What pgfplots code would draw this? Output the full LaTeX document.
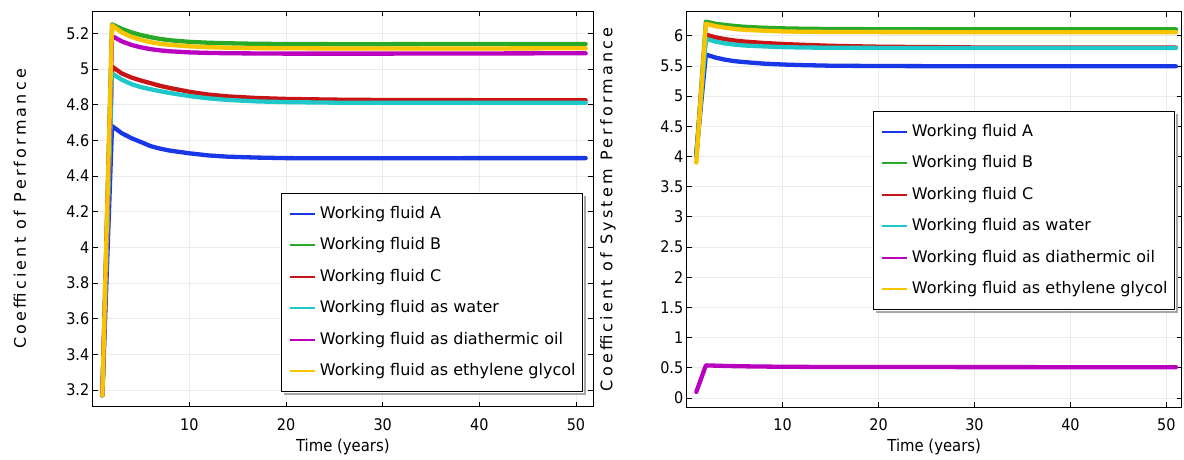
\documentclass[border=0pt]{standalone}
\usepackage{fontspec}
\setmainfont{DejaVu Sans Condensed}
\newfontfamily\legfont{DejaVu Sans}
\newfontfamily\labfont[LetterSpace=20]{DejaVu Sans}
\usepackage{pgfplots}
\pgfplotsset{compat=1.18}
\usetikzlibrary{calc}

\definecolor{cA}{RGB}{25,55,230}
\definecolor{cB}{RGB}{40,170,40}
\definecolor{cC}{RGB}{200,20,20}
\definecolor{cW}{RGB}{30,200,200}
\definecolor{cO}{RGB}{185,0,190}
\definecolor{cE}{RGB}{250,195,0}

\pgfplotsset{
  myax/.style={
    scale only axis,
    axis line style={black, line width=0.9pt},
    tick style={black, line width=0.8pt},
    major tick length=5pt,
    grid=major,
    major grid style={gray!16, line width=0.8pt},
    tick label style={font=\fontsize{16}{18}\selectfont},
    xticklabel style={yshift=-8pt},
    /pgf/number format/assume math mode=true,
    xtick={10,20,30,40,50},
    xlabel={Time (years)},
    xlabel style={font=\fontsize{16.5}{18}\selectfont, at={(axis description cs:0.5,0)}, anchor=center, yshift=-40pt},
    legend cell align=left,
    legend image code/.code={\draw[#1, line width=2pt, line cap=butt] (0pt,0pt) -- (25pt,0pt); \path (28pt,0pt);},
    every axis plot/.append style={line width=4.3pt, line join=round, line cap=round},
  },
  mylegend/.style={
    legend style={
      font=\legfont\fontsize{16}{19}\selectfont,
      draw=black, line width=0.9pt, fill=white,
      inner xsep=7pt, inner ysep=11pt,
      row sep=13pt,
      nodes={inner xsep=0pt, inner ysep=1.5pt, text height=12pt, text depth=3.5pt},
    },
  },
}

\begin{document}
\begin{tikzpicture}
\path[use as bounding box] (0,0) rectangle (1184pt,459pt);

% ---------------- Left: COP ----------------
\begin{axis}[myax, mylegend,
  at={(92.7pt,52.3pt)}, anchor=south west,
  width=500.3pt, height=395.7pt,
  xmin=0, xmax=51.76, ymin=3.106, ymax=5.325,
  ytick={3.2,3.4,3.6,3.8,4,4.2,4.4,4.6,4.8,5,5.2},
  ylabel={\labfont Coefficient of Performance},
  ylabel style={font=\fontsize{16}{18}\selectfont, at={(axis description cs:0,0.5)}, anchor=center, yshift=72.7pt},
  legend style={name=legL, at={(0.98,0.037)}, anchor=south east},
]
\addplot[cA] coordinates {(1,3.17)(2,4.68)(3,4.64)(4,4.612)(5,4.59)(6,4.567)(7,4.553)(8,4.542)(10,4.527)(12,4.515)(14,4.508)(17,4.503)(20,4.500)(25,4.499)(30,4.499)(40,4.500)(51,4.500)};
\addlegendentry{Working fluid A}
\addplot[cB] coordinates {(1,3.17)(2,5.25)(3,5.225)(4,5.205)(5,5.19)(6,5.178)(7,5.168)(8,5.161)(10,5.152)(12,5.147)(14,5.144)(17,5.141)(20,5.140)(25,5.139)(30,5.139)(40,5.140)(51,5.140)};
\addlegendentry{Working fluid B}
\addplot[cC] coordinates {(1,3.17)(2,5.013)(3,4.975)(4,4.952)(5,4.935)(6,4.92)(7,4.905)(8,4.893)(10,4.872)(12,4.856)(14,4.846)(17,4.837)(20,4.832)(25,4.828)(30,4.826)(40,4.825)(51,4.825)};
\addlegendentry{Working fluid C}
\addplot[cW] coordinates {(1,3.17)(2,4.975)(3,4.94)(4,4.915)(5,4.898)(6,4.886)(7,4.875)(8,4.865)(10,4.848)(12,4.835)(14,4.826)(17,4.818)(20,4.814)(25,4.811)(30,4.810)(40,4.810)(51,4.810)};
\addlegendentry{Working fluid as water}
\addplot[cO] coordinates {(1,3.17)(2,5.185)(3,5.155)(4,5.135)(5,5.121)(6,5.111)(7,5.104)(8,5.099)(10,5.093)(12,5.090)(14,5.088)(17,5.087)(20,5.086)(25,5.086)(30,5.086)(40,5.087)(51,5.088)};
\addlegendentry{Working fluid as diathermic oil}
\addplot[cE] coordinates {(1,3.17)(2,5.245)(3,5.205)(4,5.18)(5,5.163)(6,5.150)(7,5.141)(8,5.135)(10,5.127)(12,5.122)(14,5.119)(17,5.117)(20,5.116)(25,5.115)(30,5.115)(40,5.115)(51,5.116)};
\addlegendentry{Working fluid as ethylene glycol}
\end{axis}

% ---------------- Right: COSP ----------------
\begin{axis}[myax, mylegend,
  at={(686.7pt,52pt)}, anchor=south west,
  width=495pt, height=395.3pt,
  xmin=0, xmax=51.6, ymin=-0.15, ymax=6.40,
  ytick={0,0.5,1,1.5,2,2.5,3,3.5,4,4.5,5,5.5,6},
  ylabel={\labfont Coefficient of System Performance},
  ylabel style={font=\fontsize{16}{18}\selectfont, at={(axis description cs:0,0.5)}, anchor=center, yshift=78.7pt},
  legend style={name=legR, at={(0.9865,0.245)}, anchor=south east},
]
\addplot[cA] coordinates {(1,4.05)(2,5.69)(3,5.64)(4,5.605)(5,5.58)(6,5.565)(8,5.54)(10,5.525)(12,5.515)(15,5.505)(20,5.50)(30,5.495)(40,5.495)(51,5.495)};
\addlegendentry{Working fluid A}
\addplot[cB] coordinates {(1,4.0)(2,6.235)(3,6.2)(4,6.18)(5,6.163)(6,6.15)(8,6.134)(10,6.124)(12,6.118)(15,6.113)(20,6.11)(30,6.108)(40,6.108)(51,6.108)};
\addlegendentry{Working fluid B}
\addplot[cC] coordinates {(1,4.0)(2,6.02)(3,5.975)(4,5.945)(5,5.922)(6,5.905)(8,5.882)(10,5.865)(12,5.852)(15,5.835)(20,5.82)(30,5.808)(40,5.805)(51,5.805)};
\addlegendentry{Working fluid C}
\addplot[cW] coordinates {(1,4.0)(2,5.95)(3,5.905)(4,5.875)(5,5.855)(6,5.84)(8,5.825)(10,5.813)(12,5.807)(15,5.802)(20,5.80)(30,5.798)(40,5.798)(51,5.798)};
\addlegendentry{Working fluid as water}
\addplot[cO] coordinates {(1,0.1)(2,0.54)(3,0.535)(4,0.53)(5,0.527)(6,0.524)(8,0.52)(10,0.517)(12,0.515)(15,0.513)(20,0.512)(30,0.511)(40,0.51)(51,0.51)};
\addlegendentry{Working fluid as diathermic oil}
\addplot[cE] coordinates {(1,3.9)(2,6.2)(3,6.16)(4,6.135)(5,6.115)(6,6.10)(8,6.085)(10,6.073)(12,6.068)(15,6.064)(20,6.062)(30,6.06)(40,6.06)(51,6.06)};
\addlegendentry{Working fluid as ethylene glycol}
\end{axis}

% legend shadows (right and bottom strips)
\foreach \L in {legL,legR}{
  \fill[black!35] ($(\L.north east)+(0.5pt,-3pt)$) rectangle ($(\L.south east)+(3pt,-3pt)$);
  \fill[black!35] ($(\L.south west)+(3pt,-0.5pt)$) rectangle ($(\L.south east)+(3pt,-3pt)$);
}
\end{tikzpicture}
\end{document}
